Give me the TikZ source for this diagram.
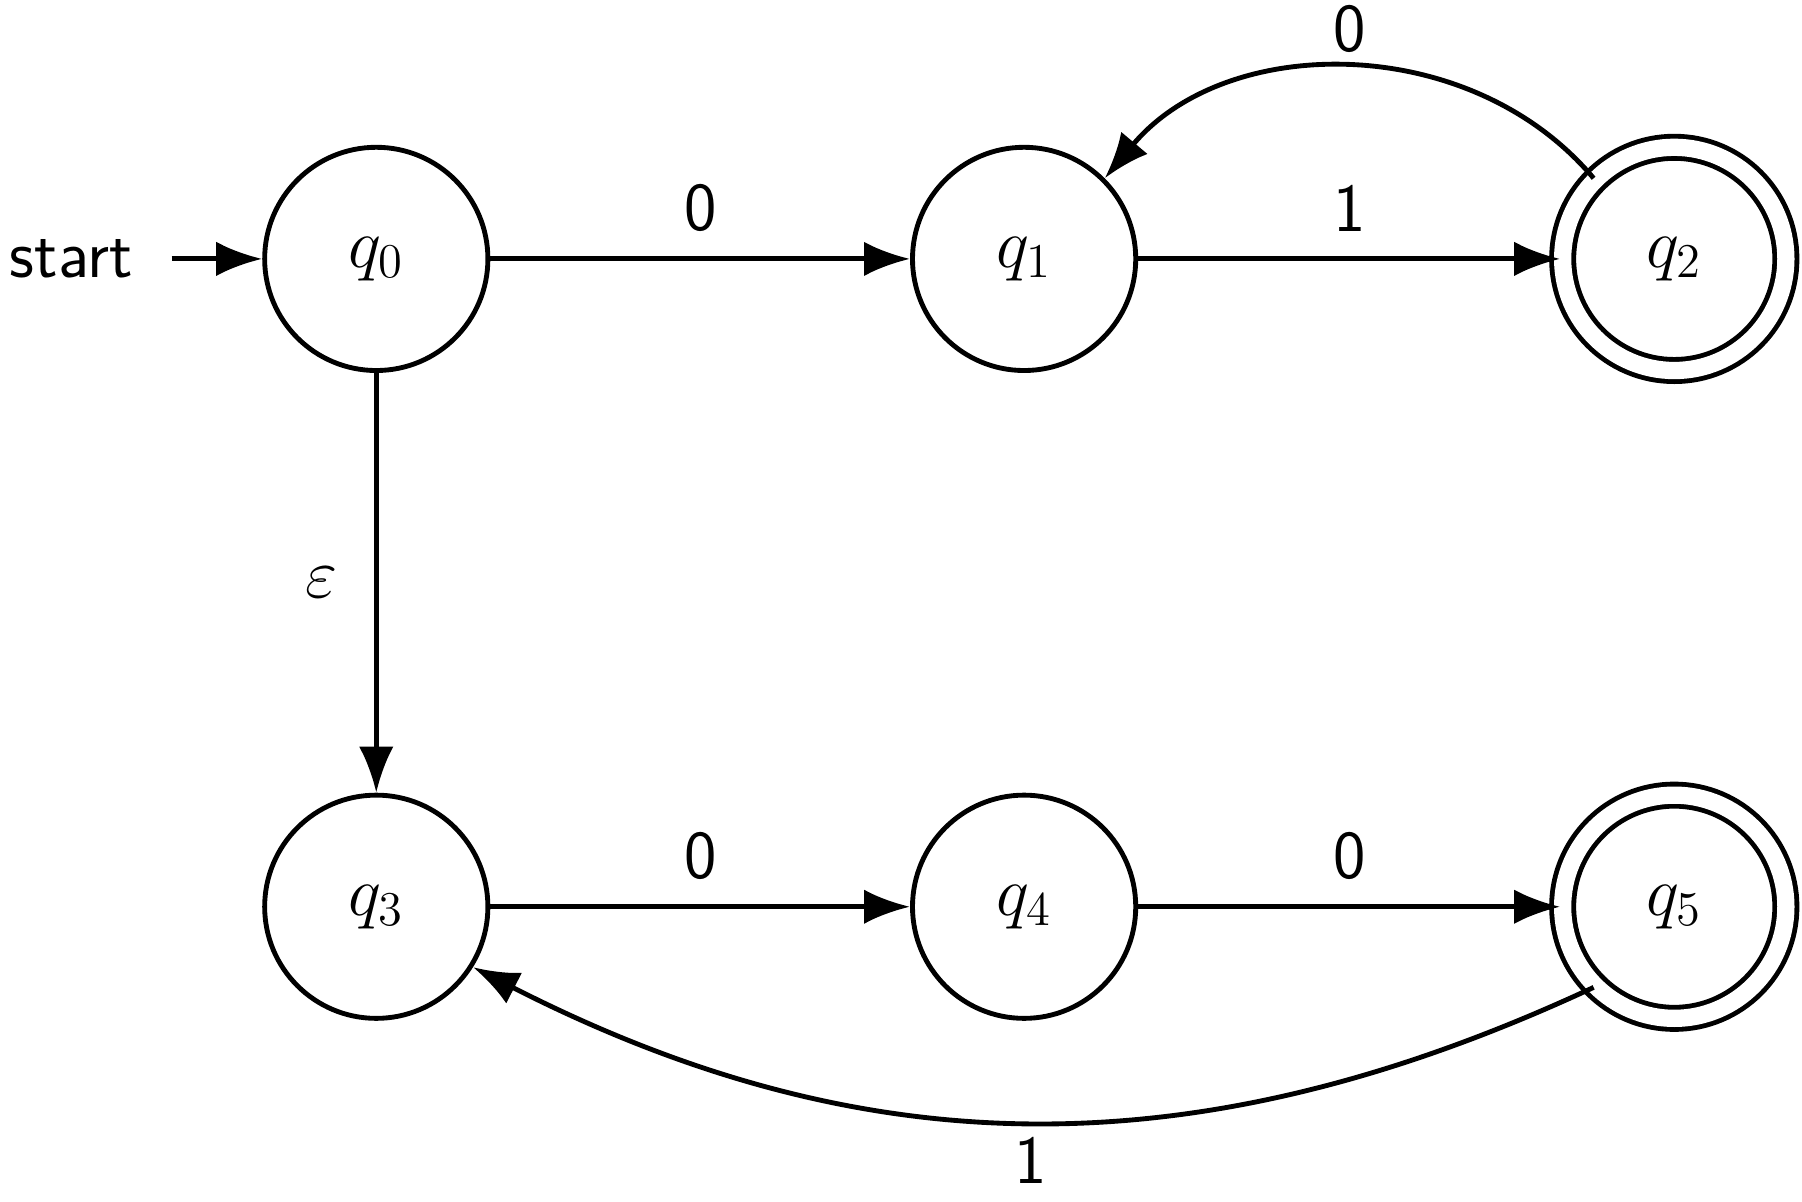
\documentclass[tikz,border=0pt]{standalone}
\usetikzlibrary{positioning,arrows.meta}
\begin{document}
\begin{tikzpicture}[-{Latex[length=4mm,width=3mm]}, auto, line width=1.2pt,
        font=\fontsize{17}{20}\selectfont\sffamily,
        state/.style ={circle, draw, minimum size=1.94cm, inner sep=0pt, font=\fontsize{18}{22}\selectfont},
        accept/.style ={state, double, double distance=1.5mm, minimum size=1.94cm}]
    \useasboundingbox (0,0) rectangle (15.66,10.44);

        \node[state] (q0) at (3.27, 8.19) {$q_0$};
        \node[state] (q1) at (8.90, 8.19) {$q_1$};
        \node[accept] (q2) at (14.55, 8.19) {$q_2$};
        \node[state] (q3) at (3.27, 2.56) {$q_3$};
        \node[state] (q4) at (8.90, 2.56) {$q_4$};
        \node[accept] (q5) at (14.55, 2.56) {$q_5$};
        \node (start) at (0.62, 8.19) {start};

        \path (start) edge [shorten <=2mm] (q0);
        \path (q0) edge node[above = 0.1 cm] {0} (q1);
        \path (q1) edge node[above = 0.1 cm] {1} (q2);
        \path (q2.135) edge [bend right=50] node[above = 0 cm, swap] {0} (q1.45);
        \path (q0) edge node[left = 0.2 cm, swap] {$\varepsilon$} (q3);
        \path (q3) edge node[above = 0.1 cm] {0} (q4);
        \path (q4) edge node[above = 0.1 cm] {0} (q5);
        \path (q5.225) edge [bend left=26] node[below = 0 cm] {1} (q3.-32);
    \end{tikzpicture}
\end{document}
